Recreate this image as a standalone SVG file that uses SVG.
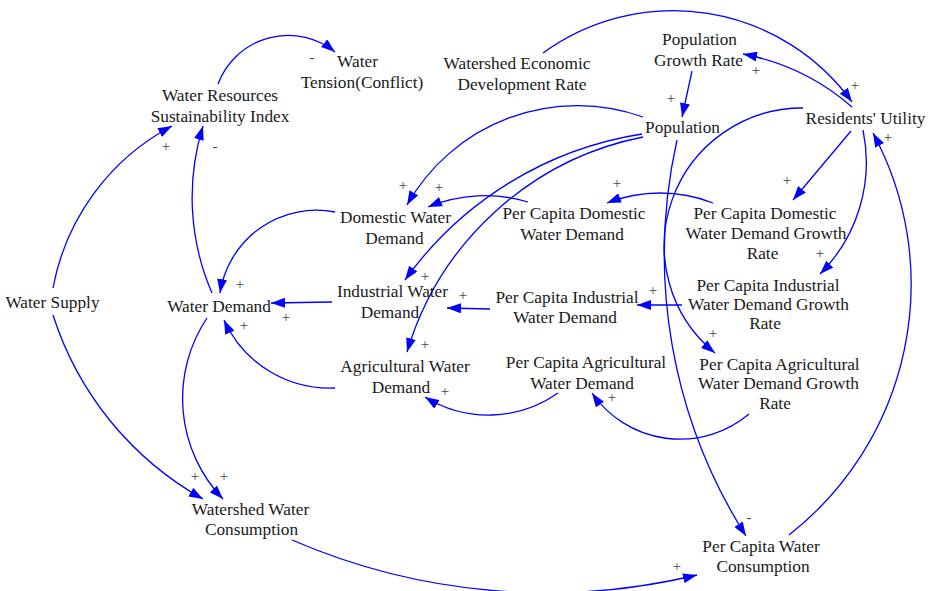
<svg xmlns="http://www.w3.org/2000/svg" width="935" height="591" viewBox="0 0 935 591">
<style>
.n{font-family:"Liberation Serif","Times New Roman",serif;font-size:17.3px;fill:#1a1a1a;text-anchor:middle}
.p{font-family:"Liberation Serif","Times New Roman",serif;font-size:15px;fill:#444;text-anchor:middle}
.c{fill:none;stroke:#0000ff;stroke-width:1.3;marker-end:url(#ah)}
</style>
<defs>
<marker id="ah" markerUnits="userSpaceOnUse" markerWidth="14" markerHeight="10" refX="14" refY="5" orient="auto">
<path d="M0,0 L14,5 L0,10 z" fill="#0000ff"/>
</marker>
</defs>
<rect width="935" height="591" fill="#ffffff"/>
<g id="connectors">
<path class="c" d="M218,84 A74.8,74.8 0 0 1 335,52"/>
<path class="c" d="M53,288 A231,231 0 0 1 172,126"/>
<path class="c" d="M53,315 A324,324 0 0 0 203,499"/>
<path class="c" d="M212,293 A240,240 0 0 1 203,126"/>
<path class="c" d="M207,318 A145,145 0 0 0 223,499"/>
<path class="c" d="M335,212 A97.5,97.5 0 0 0 220,293"/>
<path class="c" d="M332,302 L271,303"/>
<path class="c" d="M335,388 A116,116 0 0 1 224,320"/>
<path class="c" d="M643,117 A195.6,195.6 0 0 0 407,205"/>
<path class="c" d="M528,202 A148.6,148.6 0 0 0 428,207"/>
<path class="c" d="M642,134 A359,359 0 0 0 405,280"/>
<path class="c" d="M643,137 A309,309 0 0 0 407,352"/>
<path class="c" d="M490,309 L447,308"/>
<path class="c" d="M558,393 A120.5,120.5 0 0 1 425,397"/>
<path class="c" d="M682,305 L637,305"/>
<path class="c" d="M713,203 A145.5,145.5 0 0 0 607,203"/>
<path class="c" d="M749,414 A107,107 0 0 1 592,393"/>
<path class="c" d="M692,71 L682,117"/>
<path class="c" d="M852,107 A233.5,233.5 0 0 0 743,54"/>
<path class="c" d="M543,53 A220.8,220.8 0 0 1 852,102"/>
<path class="c" d="M851,131 L793,200"/>
<path class="c" d="M863,130 A158,158 0 0 1 820,274"/>
<path class="c" d="M803,108 A138,138 0 0 0 715,353"/>
<path class="c" d="M677,140 A525,525 0 0 0 746,536"/>
<path class="c" d="M789,535 A318.6,318.6 0 0 0 873,133"/>
<path class="c" d="M292,540 A642,642 0 0 0 697,575"/>
</g>
<g id="polarities">
<text class="p" x="312" y="62">-</text>
<text class="p" x="166" y="151">+</text>
<text class="p" x="215" y="151">-</text>
<text class="p" x="403" y="190">+</text>
<text class="p" x="439" y="192">+</text>
<text class="p" x="240" y="289">+</text>
<text class="p" x="286" y="322">+</text>
<text class="p" x="244" y="330">+</text>
<text class="p" x="425" y="281">+</text>
<text class="p" x="463" y="300">+</text>
<text class="p" x="425" y="349">+</text>
<text class="p" x="445" y="396">+</text>
<text class="p" x="617" y="188">+</text>
<text class="p" x="653" y="295">+</text>
<text class="p" x="612" y="402">+</text>
<text class="p" x="671" y="103">+</text>
<text class="p" x="756" y="75">+</text>
<text class="p" x="855" y="90">+</text>
<text class="p" x="888" y="142">+</text>
<text class="p" x="787" y="185">+</text>
<text class="p" x="820" y="258">+</text>
<text class="p" x="713" y="338">+</text>
<text class="p" x="749" y="522">-</text>
<text class="p" x="677" y="571">+</text>
<text class="p" x="195" y="481">+</text>
<text class="p" x="224" y="481">+</text>
</g>
<g id="water-resources-sustainability-index"><text class="n" x="220" y="101">Water Resources</text><text class="n" x="220" y="122">Sustainability Index</text></g>
<g id="water-tension"><text class="n" x="357.5" y="67">Water</text><text class="n" x="362" y="88">Tension(Conflict)</text></g>
<g id="watershed-economic-development-rate"><text class="n" x="517" y="69">Watershed Economic</text><text class="n" x="522" y="90">Development Rate</text></g>
<g id="population-growth-rate"><text class="n" x="699.5" y="45">Population</text><text class="n" x="698.5" y="66">Growth Rate</text></g>
<g id="population"><text class="n" x="682.5" y="133">Population</text></g>
<g id="residents-utility"><text class="n" x="865.5" y="124">Residents' Utility</text></g>
<g id="domestic-water-demand"><text class="n" x="395.5" y="223">Domestic Water</text><text class="n" x="394.5" y="244">Demand</text></g>
<g id="per-capita-domestic-water-demand"><text class="n" x="574" y="219">Per Capita Domestic</text><text class="n" x="572" y="240">Water Demand</text></g>
<g id="per-capita-domestic-water-demand-growth-rate"><text class="n" x="765" y="219">Per Capita Domestic</text><text class="n" x="766" y="239">Water Demand Growth</text><text class="n" x="762.5" y="259">Rate</text></g>
<g id="water-supply"><text class="n" x="52.5" y="308">Water Supply</text></g>
<g id="water-demand"><text class="n" x="219" y="312">Water Demand</text></g>
<g id="industrial-water-demand"><text class="n" x="392.5" y="297">Industrial Water</text><text class="n" x="390" y="318">Demand</text></g>
<g id="per-capita-industrial-water-demand"><text class="n" x="567" y="303">Per Capita Industrial</text><text class="n" x="565" y="323">Water Demand</text></g>
<g id="per-capita-industrial-water-demand-growth-rate"><text class="n" x="768" y="291">Per Capita Industrial</text><text class="n" x="768.5" y="310">Water Demand Growth</text><text class="n" x="765" y="329">Rate</text></g>
<g id="agricultural-water-demand"><text class="n" x="405" y="372">Agricultural Water</text><text class="n" x="401" y="393">Demand</text></g>
<g id="per-capita-agricultural-water-demand"><text class="n" x="586" y="368">Per Capita Agricultural</text><text class="n" x="582" y="389">Water Demand</text></g>
<g id="per-capita-agricultural-water-demand-growth-rate"><text class="n" x="779.5" y="370">Per Capita Agricultural</text><text class="n" x="778.5" y="389">Water Demand Growth</text><text class="n" x="775" y="409">Rate</text></g>
<g id="watershed-water-consumption"><text class="n" x="250.5" y="515">Watershed Water</text><text class="n" x="251.5" y="535">Consumption</text></g>
<g id="per-capita-water-consumption"><text class="n" x="761" y="552">Per Capita Water</text><text class="n" x="763" y="572">Consumption</text></g>
</svg>
